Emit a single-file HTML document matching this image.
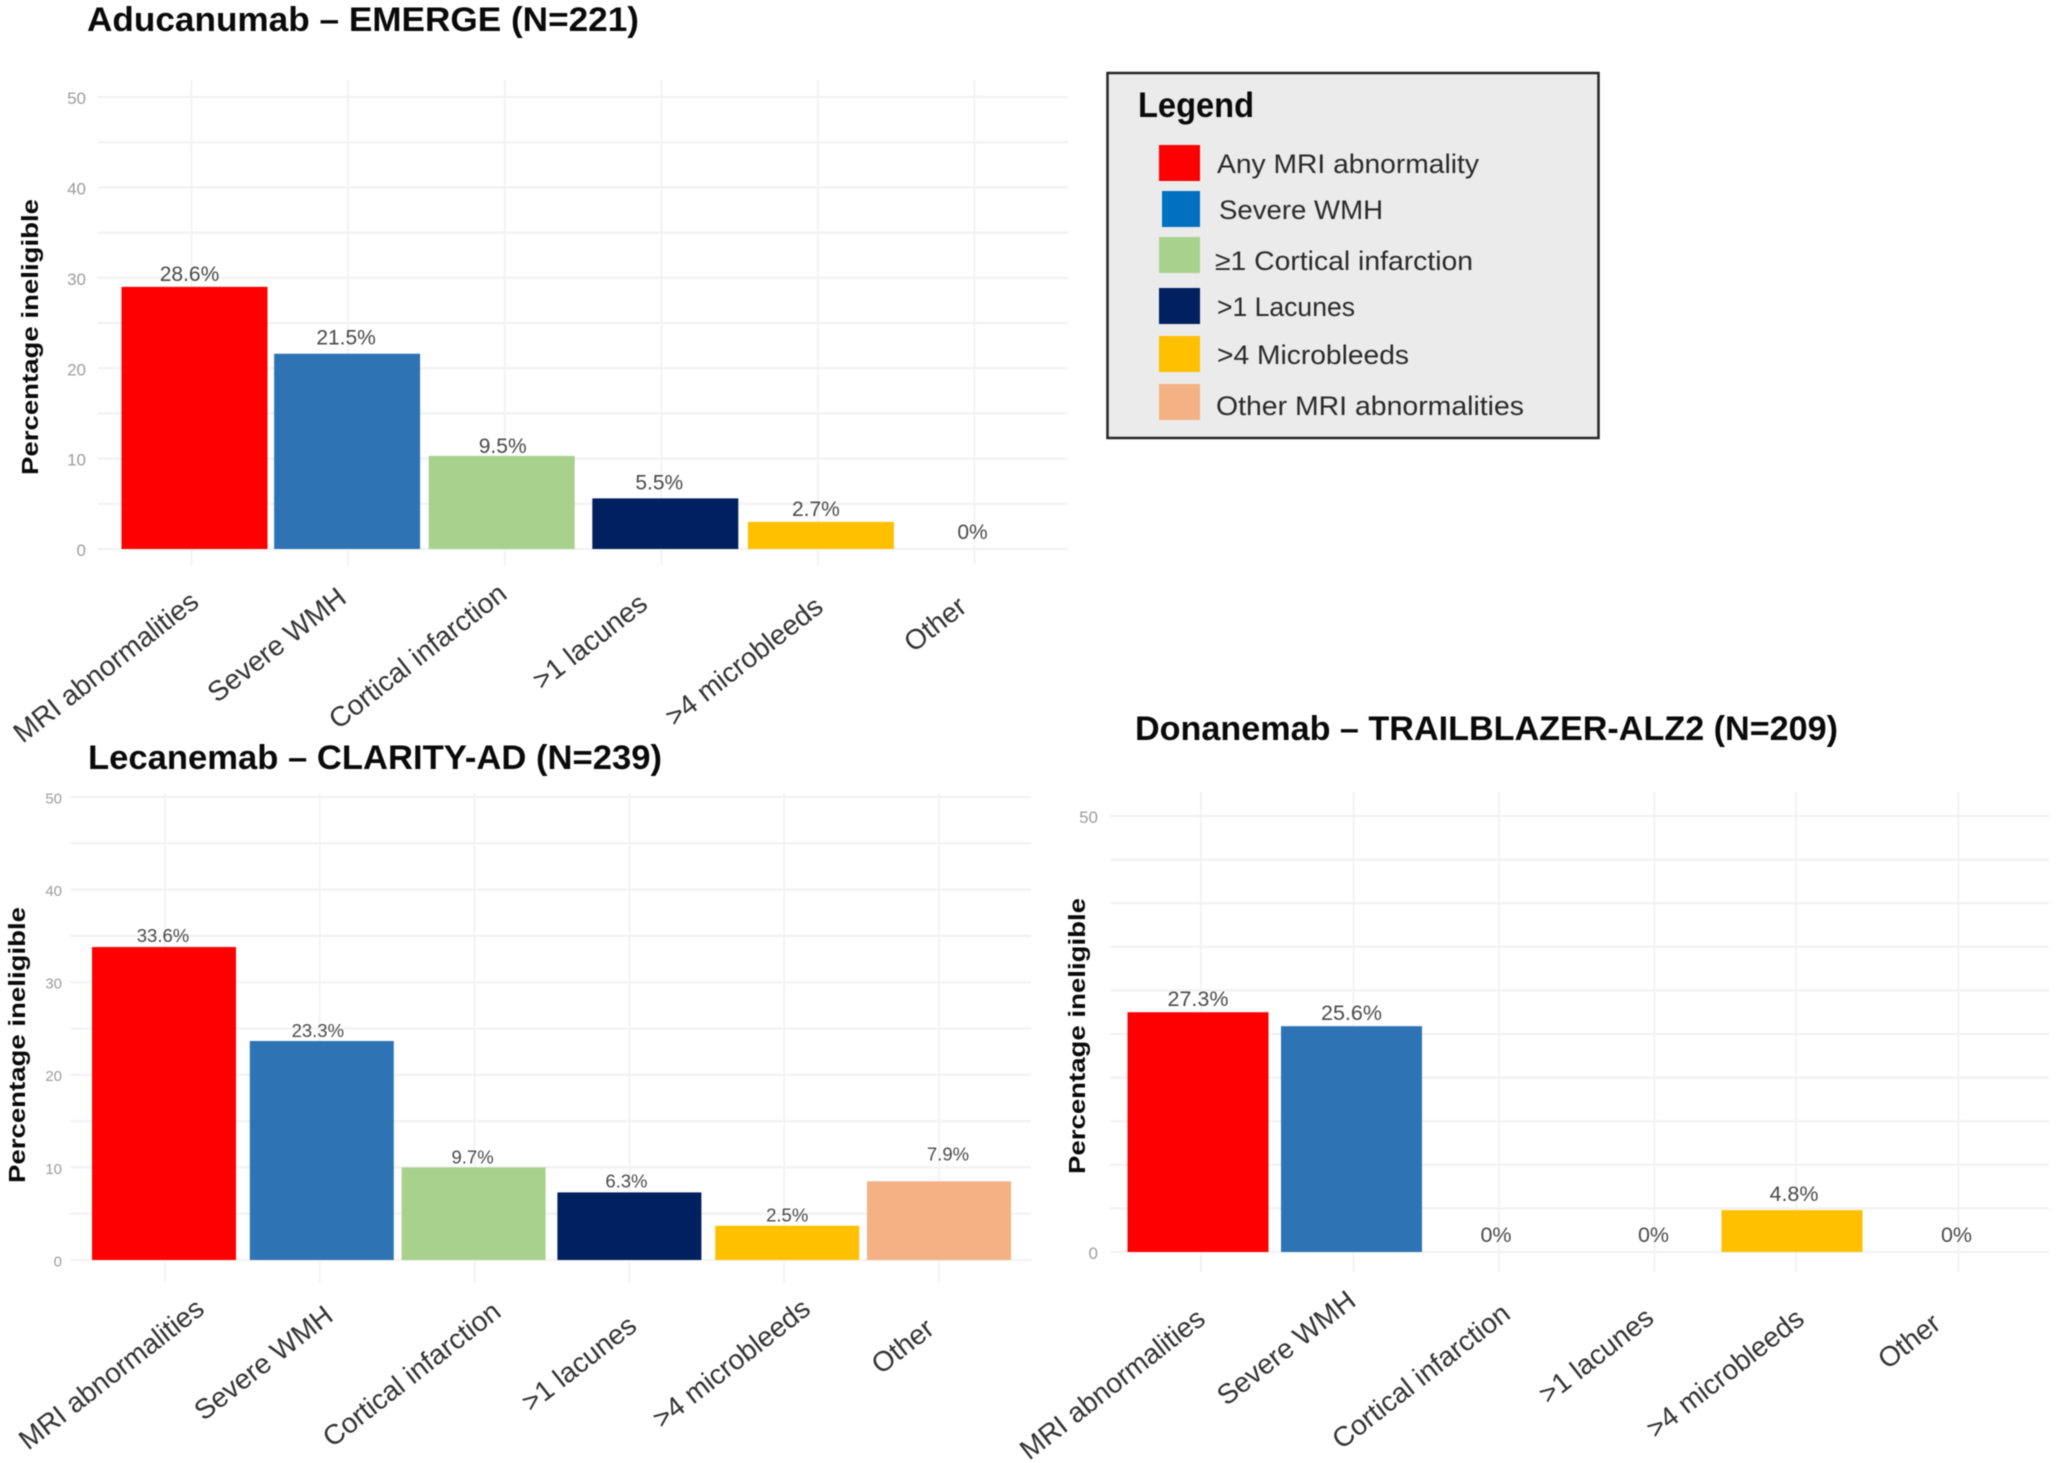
<!DOCTYPE html>
<html lang="en">
<head>
<meta charset="utf-8">
<title>MRI ineligibility by trial</title>
<style>
  html, body { margin: 0; padding: 0; background: #ffffff; }
  #stage { display: block; width: 2056px; height: 1463px; filter: blur(0.55px); }
  text { font-family: "Liberation Sans", sans-serif; }
</style>
</head>
<body>
<svg id="stage" xmlns="http://www.w3.org/2000/svg" width="2056" height="1463" viewBox="0 0 2056 1463">
  <g>
    <rect x="1110" y="73" width="491" height="365" fill="#ebebeb" stroke="#262626" stroke-width="2.5" transform="translate(-2.5,0)"/>
    <text x="1138" y="117" font-size="35" font-weight="700" fill="#0a0a0a" textLength="116" lengthAdjust="spacingAndGlyphs">Legend</text>
    <rect x="1159" y="145" width="41" height="36" fill="#ff0000"/>
    <text x="1217" y="173" font-size="27" fill="#2a2a2a" textLength="262" lengthAdjust="spacingAndGlyphs">Any MRI abnormality</text>
    <rect x="1162" y="191" width="38" height="36" fill="#0070c0"/>
    <text x="1219" y="219" font-size="27" fill="#2a2a2a" textLength="164" lengthAdjust="spacingAndGlyphs">Severe WMH</text>
    <rect x="1159" y="237" width="41" height="36" fill="#a9d18e"/>
    <text x="1215" y="270" font-size="27" fill="#2a2a2a" textLength="258" lengthAdjust="spacingAndGlyphs">≥1 Cortical infarction</text>
    <rect x="1159" y="288" width="41" height="36" fill="#002060"/>
    <text x="1217" y="316" font-size="27" fill="#2a2a2a" textLength="138" lengthAdjust="spacingAndGlyphs">&gt;1 Lacunes</text>
    <rect x="1159" y="336" width="41" height="36" fill="#ffc000"/>
    <text x="1217" y="364" font-size="27" fill="#2a2a2a" textLength="192" lengthAdjust="spacingAndGlyphs">&gt;4 Microbleeds</text>
    <rect x="1159" y="384" width="41" height="36" fill="#f4b183"/>
    <text x="1216" y="415" font-size="27" fill="#2a2a2a" textLength="308" lengthAdjust="spacingAndGlyphs">Other MRI abnormalities</text>
  </g>
</svg>
<script>
const categories = ["MRI abnormalities", "Severe WMH", "Cortical infarction", ">1 lacunes", ">4 microbleeds", "Other"];

const aducanumabValues = [29, 21.6, 10.3, 5.6, 3, 0];
const aducanumabLabels = ["28.6%", "21.5%", "9.5%", "5.5%", "2.7%", "0%"];
const aducanumabTicks = [0, 10, 20, 30, 40, 50];

const lecanemabValues = [33.8, 23.65, 10, 7.3, 3.7, 8.5];
const lecanemabLabels = ["33.6%", "23.3%", "9.7%", "6.3%", "2.5%", "7.9%"];
const lecanemabTicks = [0, 10, 20, 30, 40, 50];

const donanemabValues = [27.5, 25.9, 0, 0, 4.8, 0];
const donanemabLabels = ["27.3%", "25.6%", "0%", "0%", "4.8%", "0%"];
const donanemabTicks = [0, 50];

const gridSteps = [0, 5, 10, 15, 20, 25, 30, 35, 40, 45, 50];

const SVG_NS = "http://www.w3.org/2000/svg";
const stage = document.getElementById("stage");
const barFills = ["#ff0000", "#2e74b5", "#a9d18e", "#002060", "#ffc000", "#f4b183"];
const noNudge = [0, 0, 0, 0, 0, 0];

function make(parent, tag, props) {
  const el = document.createElementNS(SVG_NS, tag);
  for (const key in props) el.setAttribute(key, props[key]);
  parent.appendChild(el);
  return el;
}

function slug(s) {
  return s.toLowerCase().replace(/[^a-z0-9]+/g, "-").replace(/^-|-$/g, "");
}

function drawChart(cfg, values, labels, ticks) {
  const xAxis = function (i) { return cfg.xStart + cfg.xStep * i; };
  const yAxis = function (v) { return cfg.yZero - (cfg.yZero - cfg.yFifty) * v / 50; };
  const barShift = cfg.barShift || noNudge;
  const gridShift = cfg.gridShift || noNudge;
  const labelShiftX = cfg.labelShiftX || noNudge;
  const labelShiftY = cfg.labelShiftY || noNudge;

  const group = make(stage, "g", {});
  
  

  const title = make(group, "text", { x: cfg.titleX, y: cfg.titleY, "font-size": 34, "font-weight": 700, fill: "#0a0a0a", textLength: cfg.titleW, lengthAdjust: "spacingAndGlyphs" });
  title.textContent = cfg.title;
  
  

  gridSteps.forEach(function (v) {
    const line = make(group, "line", { x1: cfg.gridLeft, x2: cfg.gridRight, y1: yAxis(v), y2: yAxis(v), stroke: "#f2f2f2", "stroke-width": 2.2 });
    
    
  });

  categories.forEach(function (c, i) {
    const line = make(group, "line", { x1: xAxis(i) + gridShift[i], x2: xAxis(i) + gridShift[i], y1: cfg.gridTop, y2: cfg.gridBottom, stroke: "#f2f2f2", "stroke-width": 1.8 });
    
    
  });

  ticks.forEach(function (t) {
    const tick = make(group, "text", { x: cfg.tickRight, y: yAxis(t) + cfg.tickSize * 0.36 + 1, "font-size": cfg.tickSize, "text-anchor": "end", fill: "#9c9c9c" });
    tick.textContent = String(t);
    
    
  });

  const yTitle = make(group, "text", { transform: "translate(" + cfg.yTitleX + "," + cfg.yTitleMid + ") rotate(-90)", "font-size": 23, "font-weight": 700, "text-anchor": "middle", fill: "#0a0a0a", textLength: 276, lengthAdjust: "spacingAndGlyphs" });
  yTitle.textContent = "Percentage ineligible";
  
  

  values.forEach(function (v, i) {
    const bar = make(group, "rect", { x: xAxis(i) + barShift[i] - cfg.barW / 2, y: yAxis(v), width: cfg.barW, height: yAxis(0) - yAxis(v), fill: barFills[i] });
    
    
  });

  labels.forEach(function (s, i) {
    const value = make(group, "text", { x: xAxis(i) - 2 + labelShiftX[i], y: yAxis(values[i]) - cfg.labelGap + labelShiftY[i], "font-size": cfg.labelSize, "text-anchor": "middle", fill: "#4a4a4a" });
    value.textContent = s;
    
    
  });

  categories.forEach(function (c, i) {
    const cat = make(group, "text", { transform: "translate(" + (xAxis(i) + cfg.catDx + cfg.catShiftX[i]) + "," + (cfg.catY + cfg.catShiftY[i]) + ") rotate(-38)", "font-size": 28, "text-anchor": "end", fill: "#333333" });
    cat.textContent = c;
    
    
  });
}

drawChart({
  id: "aducanumab", title: "Aducanumab – EMERGE (N=221)", titleX: 87, titleY: 31, titleW: 552,
  xStart: 191.5, xStep: 156.6, yZero: 549, yFifty: 97, barW: 146,
  barShift: [3, -1, -3, 4, 3, 0],
  labelShiftY: [0, -3, 3, -3, 0, -4],
  gridLeft: 98, gridRight: 1068, gridTop: 80, gridBottom: 565,
  tickRight: 86, tickSize: 17, yTitleX: 38, yTitleMid: 337,
  labelGap: 6, labelSize: 21, catDx: 4, catY: 611,
  catShiftX: [5, -4, 0, -16, 3, -10],
  catShiftY: [-6, -10, -14, -4, -1, -1]
}, aducanumabValues, aducanumabLabels, aducanumabTicks);

drawChart({
  id: "lecanemab", title: "Lecanemab – CLARITY-AD (N=239)", titleX: 88, titleY: 769, titleW: 574,
  xStart: 165, xStep: 154.8, yZero: 1260, yFifty: 797, barW: 144,
  barShift: [-1, 2, -1, 0, 3, 0],
  labelShiftX: [0, 0, 0, -1, 5, 11],
  labelShiftY: [-1, 0, 0, -1, 0, -17],
  gridLeft: 70, gridRight: 1031, gridTop: 793, gridBottom: 1282,
  tickRight: 62, tickSize: 15, yTitleX: 25, yTitleMid: 1045,
  labelGap: 4, labelSize: 18.5, catDx: 15, catY: 1328,
  catShiftX: [26, 0, 13, -6, 13, -18],
  catShiftY: [-16, -9, -13, 1, -16, 4]
}, lecanemabValues, lecanemabLabels, lecanemabTicks);

drawChart({
  id: "donanemab", title: "Donanemab – TRAILBLAZER-ALZ2 (N=209)", titleX: 1135, titleY: 740, titleW: 703,
  xStart: 1200, xStep: 150.5, yZero: 1252, yFifty: 816, barW: 141,
  barShift: [-2, 1, 0, 0, -10, 0],
  gridShift: [1, 3, -2, 3, -6, 6],
  labelShiftX: [0, 3, -3, 4, -6, 6],
  labelShiftY: [0, 0, -4, -4, -3, -4],
  gridLeft: 1110, gridRight: 2049, gridTop: 792, gridBottom: 1272,
  tickRight: 1098, tickSize: 17, yTitleX: 1085, yTitleMid: 1036,
  labelGap: 6, labelSize: 21.5, catDx: 3, catY: 1326,
  catShiftX: [4, 4, 8, 1, 1, -13],
  catShiftY: [-4, -22, -9, -5, -4, 1]
}, donanemabValues, donanemabLabels, donanemabTicks);
</script>
</body>
</html>
